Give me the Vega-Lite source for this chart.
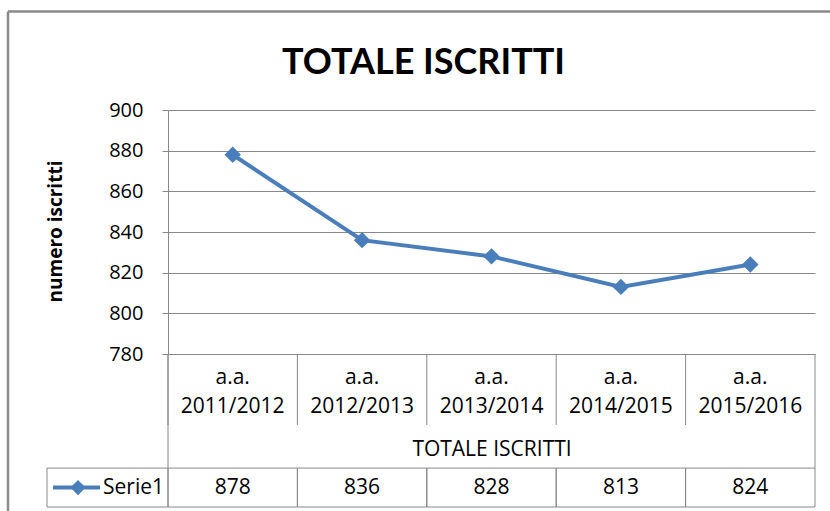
{
  "$schema": "https://vega.github.io/schema/vega-lite/v6.json",
  "autosize": {"type": "none"},
  "padding": {"left": 168, "top": 110, "right": 15, "bottom": 157},
  "width": 647,
  "height": 244,
  "background": "white",
  "config": {"view": {"stroke": null}, "font": "Open Sans"},
  "title": {"text": "TOTALE ISCRITTI", "font": "Lato", "fontSize": 36, "fontWeight": "bold", "color": "#000", "anchor": "middle", "frame": "group", "dx": -68, "baseline": "alphabetic", "offset": -100},
  "data": {"values": [
    {"anno": "a.a. 2011/2012", "iscritti": 878},
    {"anno": "a.a. 2012/2013", "iscritti": 836},
    {"anno": "a.a. 2013/2014", "iscritti": 828},
    {"anno": "a.a. 2014/2015", "iscritti": 813},
    {"anno": "a.a. 2015/2016", "iscritti": 824}
  ]},
  "resolve": {"scale": {"x": "independent"}},
  "layer": [
    {
      "mark": {"type": "line", "color": "#4a7ebb", "strokeWidth": 4},
      "encoding": {
        "x": {"field": "anno", "type": "nominal", "bandPosition": 0.5, "title": "TOTALE ISCRITTI",
          "scale": {"type": "band", "domain": ["a.a. 2011/2012", "a.a. 2012/2013", "a.a. 2013/2014", "a.a. 2014/2015", "a.a. 2015/2016"], "paddingInner": 0, "paddingOuter": 0},
          "axis": {"domain": true, "domainColor": "#888", "domainWidth": 1, "ticks": false, "tickSize": 0, "grid": false,
            "labelExpr": "split(datum.label, ' ')", "labelAngle": 0, "labelFont": "Open Sans", "labelFontSize": 21, "labelLineHeight": 29,
            "labelBaseline": "alphabetic", "labelPadding": 29, "labelColor": "#000",
            "titleFont": "Open Sans", "titleFontSize": 21, "titleFontWeight": "normal", "titleColor": "#000", "titleY": 101, "titleBaseline": "alphabetic"}},
        "y": {"field": "iscritti", "type": "quantitative", "title": "numero iscritti", "scale": {"domain": [780, 900], "zero": false, "nice": false},
          "axis": {"values": [780, 800, 820, 840, 860, 880, 900], "grid": true, "gridColor": "#888", "gridWidth": 1,
            "domain": true, "domainColor": "#888", "ticks": true, "tickSize": 6, "tickColor": "#888",
            "labelFont": "Open Sans", "labelFontSize": 20, "labelPadding": 19, "labelColor": "#000", "labelOverlap": false,
            "titleFont": "Open Sans", "titleFontSize": 19, "titleFontWeight": "bold", "titleColor": "#000",
            "titleX": -113, "titleY": 121, "titleAlign": "center", "titleBaseline": "middle"}}
      }
    },
    {
      "mark": {"type": "point", "shape": "diamond", "filled": true, "size": 270, "color": "#4a7ebb", "opacity": 1},
      "encoding": {
        "x": {"field": "anno", "type": "nominal", "bandPosition": 0.5, "axis": null,
          "scale": {"type": "band", "domain": ["a.a. 2011/2012", "a.a. 2012/2013", "a.a. 2013/2014", "a.a. 2014/2015", "a.a. 2015/2016"], "paddingInner": 0, "paddingOuter": 0}},
        "y": {"field": "iscritti", "type": "quantitative", "scale": {"domain": [780, 900], "zero": false, "nice": false}}
      }
    },
    {
      "mark": {"type": "rule", "color": "#888", "strokeWidth": 1},
      "encoding": {
        "x": {"field": "anno", "type": "nominal", "bandPosition": 0, "axis": null,
          "scale": {"type": "band", "domain": ["a.a. 2011/2012", "a.a. 2012/2013", "a.a. 2013/2014", "a.a. 2014/2015", "a.a. 2015/2016"], "paddingInner": 0, "paddingOuter": 0}},
        "y": {"datum": 780, "type": "quantitative", "scale": {"domain": [780, 900], "zero": false, "nice": false}},
        "y2": {"datum": 745.1}
      }
    },
    {
      "transform": [{"filter": "datum.anno == 'a.a. 2011/2012'"}],
      "mark": {"type": "rule", "color": "#888", "strokeWidth": 1},
      "encoding": {
        "x": {"field": "anno", "type": "nominal", "bandPosition": 0, "axis": null,
          "scale": {"type": "band", "domain": ["a.a. 2011/2012", "a.a. 2012/2013", "a.a. 2013/2014", "a.a. 2014/2015", "a.a. 2015/2016"], "paddingInner": 0, "paddingOuter": 0}},
        "y": {"datum": 780, "type": "quantitative", "scale": {"domain": [780, 900], "zero": false, "nice": false}},
        "y2": {"datum": 723.9}
      }
    },
    {
      "transform": [{"filter": "datum.anno == 'a.a. 2015/2016'"}],
      "mark": {"type": "rule", "color": "#888", "strokeWidth": 1},
      "encoding": {
        "x": {"field": "anno", "type": "nominal", "bandPosition": 1, "axis": null,
          "scale": {"type": "band", "domain": ["a.a. 2011/2012", "a.a. 2012/2013", "a.a. 2013/2014", "a.a. 2014/2015", "a.a. 2015/2016"], "paddingInner": 0, "paddingOuter": 0}},
        "y": {"datum": 780, "type": "quantitative", "scale": {"domain": [780, 900], "zero": false, "nice": false}},
        "y2": {"datum": 723.9}
      }
    },
    {
      "mark": {"type": "rect", "filled": false, "color": "#888", "strokeWidth": 1},
      "encoding": {
        "x": {"field": "anno", "type": "nominal", "axis": null,
          "scale": {"type": "band", "domain": ["a.a. 2011/2012", "a.a. 2012/2013", "a.a. 2013/2014", "a.a. 2014/2015", "a.a. 2015/2016"], "paddingInner": 0, "paddingOuter": 0}},
        "y": {"datum": 723.9, "type": "quantitative", "scale": {"domain": [780, 900], "zero": false, "nice": false}},
        "y2": {"datum": 704.75}
      }
    },
    {
      "mark": {"type": "text", "font": "Open Sans", "fontSize": 21, "color": "#000", "baseline": "middle", "align": "center"},
      "encoding": {
        "x": {"field": "anno", "type": "nominal", "bandPosition": 0.5, "axis": null,
          "scale": {"type": "band", "domain": ["a.a. 2011/2012", "a.a. 2012/2013", "a.a. 2013/2014", "a.a. 2014/2015", "a.a. 2015/2016"], "paddingInner": 0, "paddingOuter": 0}},
        "y": {"datum": 714.3, "type": "quantitative", "scale": {"domain": [780, 900], "zero": false, "nice": false}},
        "text": {"field": "iscritti", "type": "quantitative"}
      }
    },
    {
      "data": {"values": [{"serie": "Serie1"}]},
      "mark": {"type": "rule", "color": "#8a8a8a", "strokeWidth": 2.5},
      "encoding": {
        "x": {"datum": -1.2365, "type": "quantitative", "scale": {"domain": [0, 5], "zero": false, "nice": false}, "axis": null},
        "y": {"datum": 948.5, "type": "quantitative", "scale": {"domain": [780, 900], "zero": false, "nice": false}},
        "y2": {"datum": 690}
      }
    },
    {
      "data": {"values": [{"serie": "Serie1"}]},
      "mark": {"type": "rule", "color": "#8a8a8a", "strokeWidth": 2.5},
      "encoding": {
        "x": {"datum": -1.2365, "type": "quantitative", "scale": {"domain": [0, 5], "zero": false, "nice": false}, "axis": null},
        "x2": {"datum": 5.3},
        "y": {"datum": 948.5, "type": "quantitative", "scale": {"domain": [780, 900], "zero": false, "nice": false}}
      }
    },
    {
      "data": {"values": [{"serie": "Serie1"}]},
      "mark": {"type": "rect", "filled": false, "color": "#888", "strokeWidth": 1},
      "encoding": {
        "x": {"datum": -0.935, "type": "quantitative", "scale": {"domain": [0, 5], "zero": false, "nice": false}, "axis": null},
        "x2": {"datum": 0},
        "y": {"datum": 723.9, "type": "quantitative", "scale": {"domain": [780, 900], "zero": false, "nice": false}},
        "y2": {"datum": 704.75}
      }
    },
    {
      "data": {"values": [{"serie": "Serie1"}]},
      "mark": {"type": "rule", "color": "#4a7ebb", "strokeWidth": 4},
      "encoding": {
        "x": {"datum": -0.889, "type": "quantitative", "scale": {"domain": [0, 5], "zero": false, "nice": false}, "axis": null},
        "x2": {"datum": -0.5255},
        "y": {"datum": 714.3, "type": "quantitative", "scale": {"domain": [780, 900], "zero": false, "nice": false}}
      }
    },
    {
      "data": {"values": [{"serie": "Serie1"}]},
      "mark": {"type": "point", "shape": "diamond", "filled": true, "size": 230, "color": "#4a7ebb", "opacity": 1},
      "encoding": {
        "x": {"datum": -0.6955, "type": "quantitative", "scale": {"domain": [0, 5], "zero": false, "nice": false}, "axis": null},
        "y": {"datum": 714.3, "type": "quantitative", "scale": {"domain": [780, 900], "zero": false, "nice": false}}
      }
    },
    {
      "data": {"values": [{"serie": "Serie1"}]},
      "mark": {"type": "text", "font": "Open Sans", "fontSize": 21, "color": "#000", "baseline": "middle", "align": "left"},
      "encoding": {
        "x": {"datum": -0.502, "type": "quantitative", "scale": {"domain": [0, 5], "zero": false, "nice": false}, "axis": null},
        "y": {"datum": 714.3, "type": "quantitative", "scale": {"domain": [780, 900], "zero": false, "nice": false}},
        "text": {"field": "serie", "type": "nominal"}
      }
    }
  ]
}
